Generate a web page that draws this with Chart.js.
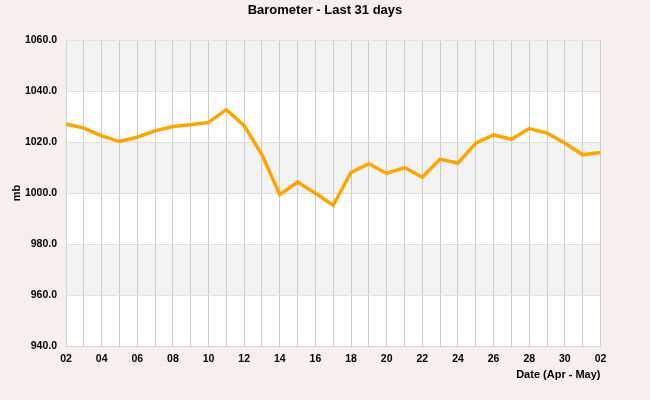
<!DOCTYPE html>
<html>
<head>
<meta charset="utf-8">
<script src="https://cdn.jsdelivr.net/npm/chart.js@4"></script>
<style>
  html, body { margin: 0; padding: 0; background: #f7efed; }
  #wrap { width: 650px; height: 400px; }
</style>
</head>
<body>
<div id="wrap"><canvas id="baroChart" width="650" height="400"></canvas></div>
<script>
// day of month, 2 Apr -> 2 May
const days = ['02','03','04','05','06','07','08','09','10','11','12','13','14','15','16',
              '17','18','19','20','21','22','23','24','25','26','27','28','29','30','01','02'];

// pressure in mb
const pressure = [1027.1, 1025.5, 1022.4, 1020.2, 1021.9, 1024.4, 1026.1, 1026.8, 1027.7, 1032.7,
                  1026.4, 1015.0, 999.4, 1004.3, 999.9, 995.2, 1008.1, 1011.5, 1007.7, 1010.0,
                  1006.2, 1013.3, 1011.7, 1019.6, 1022.8, 1021.1, 1025.3, 1023.5, 1019.6, 1015.0,
                  1015.9];

const yTicks = [940, 960, 980, 1000, 1020, 1040, 1060];

// page background + alternating grey bands behind the grid
const bandPlugin = {
    id: 'bands',
    beforeDraw(chart){
        const ctx = chart.ctx;
        const area = chart.chartArea;
        const y = chart.scales.y;

        ctx.save();
        ctx.fillStyle = '#f7efed';
        ctx.fillRect(0, 0, chart.width, chart.height);
        ctx.fillStyle = '#ffffff';
        ctx.fillRect(area.left, area.top, area.right - area.left, area.bottom - area.top);

        ctx.fillStyle = '#f3f3f3';
        for(let i = 1; i < yTicks.length - 1; i += 2){
            const top = y.getPixelForValue(yTicks[i + 1]);
            const bot = y.getPixelForValue(yTicks[i]);
            ctx.fillRect(area.left, top, area.right - area.left, bot - top);
        }
        ctx.restore();
    }
};

const font = { family: '"Liberation Sans", Arial, sans-serif', weight: 'bold' };

new Chart(document.getElementById('baroChart'), {
    type: 'line',
    data: {
        labels: days,
        datasets: [{
            data: pressure,
            borderColor: '#ffa500',
            borderWidth: 3.5,
            pointRadius: 0,
            tension: 0,
            fill: false
        }]
    },
    options: {
        responsive: false,
        animation: false,
        layout: { padding: 0 },
        plugins: {
            legend: { display: false },
            tooltip: { enabled: false },
            title: {
                display: true,
                text: 'Barometer - Last 31 days',
                color: '#000',
                font: { ...font, size: 13 },
                padding: { top: 3, bottom: 21.5 }
            }
        },
        scales: {
            x: {
                offset: false,
                afterFit(scale){ scale.height = 54; },
                grid: { color: '#cccccc', drawTicks: false },
                border: { color: '#d4d4d4' },
                ticks: {
                    autoSkip: false,
                    maxRotation: 0,
                    padding: 7,
                    color: '#000',
                    font: { ...font, size: 10.5 },
                    callback: (v, i) => i % 2 === 0 ? days[i] : ''
                },
                title: {
                    display: true,
                    text: 'Date (Apr - May)',
                    align: 'end',
                    color: '#000',
                    font: { ...font, size: 11 },
                    padding: { top: 0, bottom: 18 }
                }
            },
            y: {
                min: yTicks[0],
                max: yTicks[yTicks.length - 1],
                afterFit(scale){ scale.width = 66; },
                afterBuildTicks(scale){ scale.ticks = yTicks.map(v => ({ value: v })); },
                grid: { color: '#e0e0e0', drawTicks: false },
                border: { color: '#d4d4d4' },
                ticks: {
                    padding: 9,
                    color: '#000',
                    font: { ...font, size: 10.5 },
                    callback: v => v.toFixed(1)
                },
                title: {
                    display: true,
                    text: 'mb',
                    color: '#000',
                    font: { ...font, size: 11 },
                    padding: { top: 10, bottom: 0 }
                }
            },
            // empty right-hand margin so the title stays centred on the page
            margin: {
                position: 'right',
                min: yTicks[0],
                max: yTicks[yTicks.length - 1],
                afterFit(scale){ scale.width = 49.5; },
                grid: { display: false, drawTicks: false },
                border: { display: false },
                ticks: { display: false }
            }
        }
    },
    plugins: [bandPlugin]
});
</script>
</body>
</html>
